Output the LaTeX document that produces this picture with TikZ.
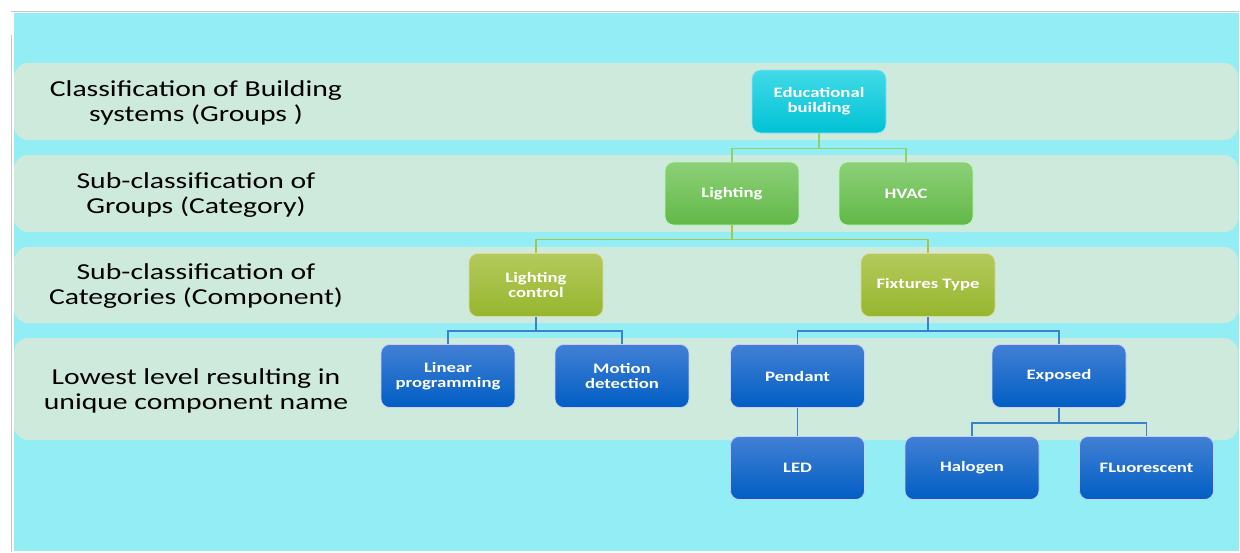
\documentclass[tikz,border=0pt]{standalone}
\usepackage{fontspec}
\setmainfont{Carlito}[FakeStretch=1.3]
\definecolor{bgcyan}{RGB}{146,238,244}
\definecolor{bandgreen}{RGB}{206,234,220}
\definecolor{frame}{RGB}{200,200,200}
\tikzset{
  box/.style={rounded corners=5pt, minimum width=2.68cm, minimum height=1.26cm,
    align=center, text=white, font=\bfseries\fontsize{8.2}{8.6}\selectfont, inner sep=2pt},
  edubox/.style={box, draw=cyan!40!white, top color={rgb,255:red,66;green,218;blue,232}, bottom color={rgb,255:red,0;green,194;blue,212}},
  catbox/.style={box, draw=green!30!white, top color={rgb,255:red,140;green,208;blue,120}, bottom color={rgb,255:red,98;green,184;blue,72}},
  compbox/.style={box, draw=olive!30!white, top color={rgb,255:red,180;green,202;blue,92}, bottom color={rgb,255:red,150;green,182;blue,46}},
  leafbox/.style={box, draw=blue!20!white, top color={rgb,255:red,66;green,128;blue,212}, bottom color={rgb,255:red,0;green,94;blue,196}},
  band/.style={fill=bandgreen, rounded corners=8pt},
  lvl/.style={align=center, font=\fontsize{13}{14.5}\selectfont},
  catline/.style={draw={rgb,255:red,140;green,210;blue,110}, line width=0.8pt},
  compline/.style={draw={rgb,255:red,170;green,196;blue,80}, line width=0.8pt},
  leafline/.style={draw={rgb,255:red,60;green,130;blue,200}, line width=0.8pt}
}
\begin{document}
\begin{tikzpicture}[x=0.02cm, y=-0.02cm]
\useasboundingbox (0,0) rectangle (1240,552);
\fill[white] (0,0) rectangle (1240,552);
\fill[bgcyan] (14,13) rectangle (1239,551);
\draw[frame, line width=0.4pt] (11,11) -- (1239,11);
\draw[frame, line width=0.4pt] (11,35) -- (11,552);
% levels
\fill[band] (14,63) rectangle (1238,140);
\fill[band] (14,155) rectangle (1238,232);
\fill[band] (14,247) rectangle (1238,323);
\fill[band] (14,338) rectangle (1238,440);
\node[lvl] (lvl0) at (196,103) {Classification of Building\\systems (Groups )};
\node[lvl] (lvl1) at (196,195) {Sub-classification of\\Groups (Category)};
\node[lvl] (lvl2) at (196,286) {Sub-classification of\\Categories (Component)};
\node[lvl] (lvl3) at (196,391) {Lowest level resulting in\\unique component name};
% tree
\node[edubox] (edu) at (819,101.5) {Educational\\building};
\node[catbox] (light) at (732,193.5) {Lighting};
\node[catbox] (hvac) at (906,193.5) {HVAC};
\node[compbox] (ctrl) at (536,285) {Lighting\\control};
\node[compbox] (fix) at (928,285) {Fixtures Type};
\node[leafbox] (lin) at (448,376) {Linear\\programming};
\node[leafbox] (mot) at (622,376) {Motion\\detection};
\node[leafbox] (pend) at (797.5,376) {Pendant};
\node[leafbox] (expo) at (1059,376) {Exposed};
\node[leafbox] (led) at (797.5,468) {LED};
\node[leafbox] (halo) at (972,468) {Halogen};
\node[leafbox] (fluo) at (1146.5,468) {FLuorescent};
\draw[catline] (edu.south) -- ++(0,15) -| (light.north);
\draw[catline] (edu.south) -- ++(0,15) -| (hvac.north);
\draw[compline] (light.south) -- ++(0,14) -| (ctrl.north);
\draw[compline] (light.south) -- ++(0,14) -| (fix.north);
\draw[leafline] (ctrl.south) -- ++(0,14) -| (lin.north);
\draw[leafline] (ctrl.south) -- ++(0,14) -| (mot.north);
\draw[leafline] (fix.south) -- ++(0,14) -| (pend.north);
\draw[leafline] (fix.south) -- ++(0,14) -| (expo.north);
\draw[leafline] (pend.south) -- (led.north);
\draw[leafline] (expo.south) -- ++(0,15) -| (halo.north);
\draw[leafline] (expo.south) -- ++(0,15) -| (fluo.north);
\end{tikzpicture}
\end{document}
